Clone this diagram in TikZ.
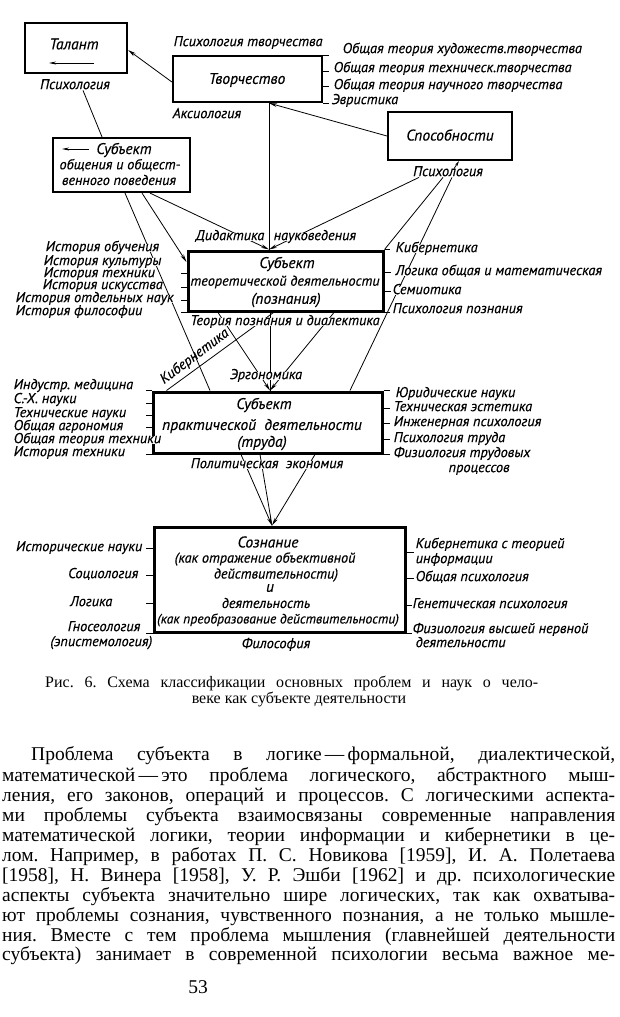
\documentclass[tikz,border=0pt]{standalone}
\usepackage{fontspec}
\setmainfont{Liberation Serif}
\newfontfamily\drf{PT Sans}[FakeBold=0.3]
\usetikzlibrary{arrows.meta}
\frenchspacing
\begin{document}
\begin{tikzpicture}[x=1pt,y=-1pt,
  lbl/.style={font=\drf\itshape\fontsize{14.3}{15}\selectfont, inner sep=0.5pt, fill=white, text height=0.68em, text depth=0.06em},
  btx/.style={font=\drf\itshape\fontsize{15.5}{16}\selectfont, inner sep=0pt},
  btxs/.style={font=\drf\itshape\fontsize{14.2}{15}\selectfont, inner sep=0pt},
  boxn/.style={draw, line width=2.2pt, inner sep=0pt},
  bigbox/.style={boxn, line width=3pt},
  con/.style={line width=0.8pt},
  arr/.style={con, -{Stealth[length=8pt,width=3.6pt]}},
  tk/.style={line width=0.8pt},
  bodytxt/.style={font=\fontsize{19.5}{20}\selectfont, inner sep=0pt, anchor=base west},
  captxt/.style={font=\fontsize{16}{17}\selectfont, inner sep=0pt, anchor=base west}]
\useasboundingbox[fill=white] (0,0) rectangle (620,1017);

% ---------- boxes ----------
\node[boxn, minimum width=102pt, minimum height=50pt] (tal) at (76,48) {};
\node[boxn, minimum width=149pt, minimum height=46pt] (tv) at (247.5,79) {};
\node[boxn, minimum width=124pt, minimum height=48pt] (sp) at (450,136) {};
\node[boxn, minimum width=137pt, minimum height=54pt] (so) at (121.5,165) {};
\node[bigbox, minimum width=195pt, minimum height=60pt] (th) at (285.5,281) {};
\node[bigbox, minimum width=229pt, minimum height=61pt] (pr) at (267.5,422.5) {};
\node[bigbox, minimum width=251pt, minimum height=105pt] (sz) at (279.5,579.5) {};

% ---------- box texts ----------
\node[btx] (tTal) at (74,44) {Талант};
\coordinate (ta1) at (94,63); \coordinate (ta2) at (49,63);
\draw[con, -{Stealth[length=7pt,width=3pt]}] (ta1) -- (ta2);
\node[btx] (tTv) at (247,80) {Творчество};
\node[btx] (tSp) at (450,135) {Способности};
\node[btx] (tSo1) at (124,150) {Субъект};
\coordinate (sa1) at (89,149); \coordinate (sa2) at (62,149);
\draw[con, -{Stealth[length=7pt,width=3pt]}] (sa1) -- (sa2);
\node[btxs] (tSo2) at (120,165) {общения и общест-};
\node[btxs] (tSo3) at (119,180) {венного поведения};
\node[btx] (tTh1) at (287,264) {Субъект};
\node[btxs] (tTh2) at (285,282) {теоретической деятельности};
\node[btx] (tTh3) at (286,300) {(познания)};
\node[btx] (tPr1) at (264,405) {Субъект};
\node[btx] (tPr2) at (262,426) {практической\ \ деятельности};
\node[btx] (tPr3) at (262,443) {(труда)};
\node[btx] (tSz1) at (268,542) {Сознание};
\node[btxs] (tSz2) at (265,559) {(как отражение объективной};
\node[btxs] (tSz3) at (276,575) {действительности)};
\node[btx] (tSz4) at (270,588) {и};
\node[btxs] (tSz5) at (266,603) {деятельность};
\node[btxs, font=\drf\itshape\fontsize{13.6}{14}\selectfont] (tSz6) at (278,620) {(как преобразование действительности)};

% ---------- connectors (drawn before the labels) ----------
\node[lbl] (psT) at (75,86) {Психология};
\node[lbl] (psS) at (448,173) {Психология};
\draw[arr] ([yshift=-3pt]tv.west) -- ([yshift=-2pt]tal.east);
\draw[arr] (sp.west) -- ([xshift=21.5pt]tv.south);
\draw[con] ([xshift=21.5pt]tv.south) -- ([xshift=-16.5pt]th.north);
\draw[con] ([xshift=8pt]psT.south) -- ([xshift=-19.5pt]so.north);
\draw[con] ([xshift=3.5pt]so.south) -- ([xshift=-57.5pt]pr.north);
\draw[arr] ([xshift=20.5pt]so.south) -- ([yshift=19pt]th.west);
\draw[arr] ([xshift=28.5pt]so.south) -- ([xshift=-16.5pt]th.north);
\draw[arr] ([xshift=-29pt]psS.south) -- ([xshift=-16.5pt]th.north);
\draw[con] ([xshift=-5pt]psS.south) -- (th.north east);
\draw[con] ([xshift=4pt]psS.south) -- ([xshift=82.5pt]pr.north);
\draw[con, -{Stealth[length=5pt,width=2.5pt]}] ([xshift=6pt]psS.north) -- ([xshift=9pt]sp.south);
\draw[arr] ([xshift=-67.5pt]th.south) -- ([xshift=2.5pt]pr.north);
\draw[con] ([xshift=-15.5pt]th.south) -- ([xshift=2.5pt]pr.north);
\draw[arr] ([xshift=48.5pt]th.south) -- ([xshift=2.5pt]pr.north);
\draw[con] ([xshift=-12pt]th.south) -- ([xshift=15pt]pr.north west);
\draw[arr] ([xshift=-26.5pt]pr.south) -- ([xshift=-7.5pt]sz.north);
\draw[con] ([xshift=-7.5pt]pr.south) -- ([xshift=-7.5pt]sz.north);
\draw[arr] ([xshift=47.5pt]pr.south) -- ([xshift=-7.5pt]sz.north);

% ---------- ticks ----------
\foreach \s in {0,-16,-31} \draw[tk] ([yshift=\s pt]tv.north east) -- ++(6,0);
\draw[tk] (tv.south east) -- ++(6,0);
\foreach \s in {8,-6,-19} \draw[tk] ([yshift=\s pt]th.west) -- ++(-6,0);
\draw[tk] (th.south west) -- ++(-6,0);
\foreach \s in {9,-10} \draw[tk] ([yshift=\s pt]th.east) -- ++(6,0);
\draw[tk] (th.north east) -- ++(5,0);
\draw[tk] (th.south east) -- ++(5,0);
\draw[tk] (pr.north west) -- ++(-6,0);
\foreach \s in {19.5,7.5,-4.5,-17.5} \draw[tk] ([yshift=\s pt]pr.west) -- ++(-6,0);
\draw[tk] (pr.south west) -- ++(-6,0);
\draw[tk] (pr.north east) -- ++(6,0);
\foreach \s in {14.5,-0.5,-16.5} \draw[tk] ([yshift=\s pt]pr.east) -- ++(6,0);
\draw[tk] (pr.south east) -- ++(6,0);
\foreach \s in {31.5,4.5,-23.5} \draw[tk] ([yshift=\s pt]sz.west) -- ++(-7,0);
\draw[tk] (sz.south west) -- ++(-7,0);
\foreach \s in {27.5,1.5,-25.5} \draw[tk] ([yshift=\s pt]sz.east) -- ++(7,0);
\draw[tk] (sz.south east) -- ++(7,0);

% ---------- labels ----------
\node[lbl, anchor=west] (lPT) at (173,43) {Психология творчества};
\node[lbl, anchor=west] (lT1) at (342,50) {Общая теория художеств.творчества};
\node[lbl, anchor=west] (lT2) at (333,69) {Общая теория техническ.творчества};
\node[lbl, anchor=west] (lT3) at (333,86) {Общая теория научного творчества};
\node[lbl, anchor=west] (lT4) at (331,101) {Эвристика};
\node[lbl, anchor=west] (lAk) at (172,115) {Аксиология};
\node[lbl] (psT2) at (75,86) {Психология};
\node[lbl] (psS2) at (448,173) {Психология};

\node[lbl, anchor=east] (lDi1) at (265,237) {Дидактика};
\node[lbl, anchor=west] (lDi2) at (273,237) {науковедения};

\node[lbl, anchor=west] (lH1) at (45,248) {История обучения};
\node[lbl, anchor=west] (lH2) at (43,262) {История культуры};
\node[lbl, anchor=west] (lH3) at (43,274) {История техники};
\node[lbl, anchor=west] (lH4) at (42,286) {История искусства};
\node[lbl, anchor=west] (lH5) at (15,299) {История отдельных наук};
\node[lbl, anchor=west] (lH6) at (15,312) {История философии};

\node[lbl, anchor=west] (lR1) at (395,249) {Кибернетика};
\node[lbl, anchor=west] (lR2) at (395,272) {Логика общая и математическая};
\node[lbl, anchor=west] (lR3) at (392,291) {Семиотика};
\node[lbl, anchor=west] (lR4) at (392,310) {Психология познания};

\node[lbl] (lTeo) at (285,322) {Теория познания и диалектика};
\node[lbl, rotate=37, fill=none] (lKib) at (195,357) {Кибернетика};
\node[lbl] (lErg) at (266,376) {Эргономика};

\node[lbl, anchor=west] (lP1) at (13,386) {Индустр. медицина};
\node[lbl, anchor=west] (lP2) at (13,400) {С.-Х. науки};
\node[lbl, anchor=west] (lP3) at (13,414) {Технические науки};
\node[lbl, anchor=west] (lP4) at (13,427) {Общая агрономия};
\node[lbl, anchor=west] (lP5) at (13,440) {Общая теория техники};
\node[lbl, anchor=west] (lP6) at (13,453) {История техники};

\node[lbl, anchor=west] (lQ1) at (395,394) {Юридические науки};
\node[lbl, anchor=west] (lQ2) at (393,408) {Техническая эстетика};
\node[lbl, anchor=west] (lQ3) at (393,423) {Инженерная психология};
\node[lbl, anchor=west] (lQ4) at (393,439) {Психология труда};
\node[lbl, anchor=west] (lQ5) at (393,454) {Физиология трудовых};
\node[lbl, anchor=west] (lQ6) at (448,469) {процессов};

\node[lbl] (lPol) at (267,465) {Политическая\ \ экономия};

\node[lbl, anchor=east] (lS1) at (143,548) {Исторические науки};
\node[lbl, anchor=east] (lS2) at (139,575) {Социология};
\node[lbl, anchor=east] (lS3) at (113,603) {Логика};
\node[lbl, anchor=east] (lS4) at (141,628) {Гносеология};
\node[lbl, anchor=east] (lS5) at (153,643) {(эпистемология)};
\node[lbl] (lFil) at (276,645) {Философия};
\node[lbl, anchor=west] (lZ1) at (415,545) {Кибернетика с теорией};
\node[lbl, anchor=west] (lZ2) at (415,560) {информации};
\node[lbl, anchor=west] (lZ3) at (415,578) {Общая психология};
\node[lbl, anchor=west] (lZ4) at (412,605) {Генетическая психология};
\node[lbl, anchor=west] (lZ5) at (412,630) {Физиология высшей нервной};
\node[lbl, anchor=west] (lZ6) at (415,644) {деятельности};

% ---------- caption ----------
\node[captxt] (c1) at (45,687) {\makebox[493pt][s]{Рис. 6. Схема классификации основных проблем и наук о чело-}};
\node[captxt, anchor=base] (c2) at (299,703) {веке\ как\ субъекте\ деятельности};

% ---------- body text ----------
\node[bodytxt] (b1) at (31,760) {\makebox[584pt][s]{Проблема субъекта в логике\,—\,формальной, диалектической,}};
\node[bodytxt] (b2) at (2,781) {\makebox[613pt][s]{математической\,—\,это проблема логического, абстрактного мыш-}};
\node[bodytxt] (b3) at (2,801) {\makebox[613pt][s]{ления, его законов, операций и процессов. С логическими аспекта-}};
\node[bodytxt] (b4) at (2,821) {\makebox[613pt][s]{ми проблемы субъекта взаимосвязаны современные направления}};
\node[bodytxt] (b5) at (2,841) {\makebox[613pt][s]{математической логики, теории информации и кибернетики в це-}};
\node[bodytxt] (b6) at (2,861) {\makebox[613pt][s]{лом. Например, в работах П. С. Новикова [1959], И. А. Полетаева}};
\node[bodytxt] (b7) at (2,881) {\makebox[613pt][s]{[1958], Н. Винера [1958], У. Р. Эшби [1962] и др. психологические}};
\node[bodytxt] (b8) at (2,901) {\makebox[613pt][s]{аспекты субъекта значительно шире логических, так как охватыва-}};
\node[bodytxt] (b9) at (2,921) {\makebox[613pt][s]{ют проблемы сознания, чувственного познания, а не только мышле-}};
\node[bodytxt] (b10) at (2,941) {\makebox[613pt][s]{ния. Вместе с тем проблема мышления (главнейшей деятельности}};
\node[bodytxt] (b11) at (2,960) {\makebox[613pt][s]{субъекта) занимает в современной психологии весьма важное ме-}};
\node[bodytxt, anchor=base] (pg) at (198,993) {53};
\end{tikzpicture}
\end{document}
